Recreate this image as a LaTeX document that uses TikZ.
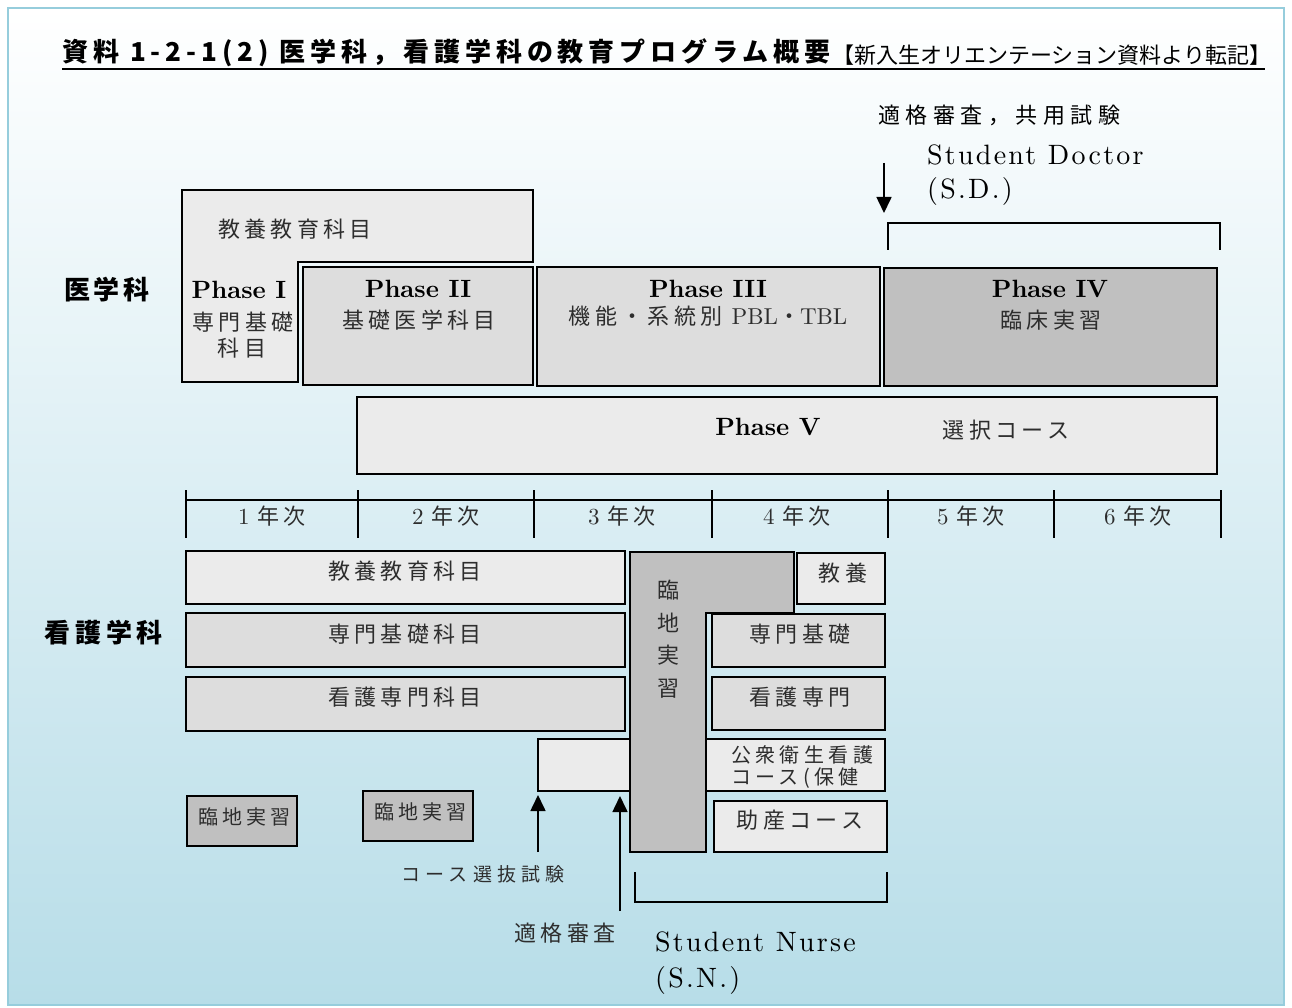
\documentclass[tikz,border=0pt]{standalone}
\usepackage{fontspec}
\usetikzlibrary{arrows.meta,fit}
\newfontfamily\jp{Noto Sans CJK JP}
\newfontfamily\lmr{lmroman10-regular.otf}
\newfontfamily\lmb{lmroman10-bold.otf}
\newfontfamily\lmsp{lmroman10-regular.otf}[LetterSpace=8]
\definecolor{framec}{RGB}{150,205,220}
\definecolor{bgb}{RGB}{183,221,232}
\definecolor{fa}{RGB}{235,235,235}
\definecolor{fb}{RGB}{221,221,221}
\definecolor{fc}{RGB}{192,192,192}
\definecolor{tx}{RGB}{45,45,45}
\newcommand\jtA{\fontsize{22}{26}\selectfont\jp\addfontfeatures{LetterSpace=20}}
\newcommand\jtS{\fontsize{20}{24}\selectfont\jp\addfontfeatures{LetterSpace=20}}
\newcommand\rmA{\fontsize{23}{26}\selectfont\lmr}
\newcommand\phf{\fontsize{25}{28}\selectfont\lmb}
\newcommand\enf{\fontsize{28}{32}\selectfont\lmsp}
\begin{document}
\begin{tikzpicture}[x=1pt,y=-1pt,
  bx/.style={draw=black,line width=1.5pt,inner sep=0pt,outer sep=0pt},
  lb/.style={inner sep=0pt,text=tx,font=\jtA},
  lbs/.style={inner sep=0pt,text=tx,font=\jtS},
  phl/.style={inner sep=0pt,font=\phf},
  en/.style={inner sep=0pt,anchor=west,font=\enf},
  arr/.style={line width=1.6pt,-{Triangle[length=16pt,width=15pt]}},
  brk/.style={line width=1.5pt}]
\useasboundingbox (0,0) rectangle (1292,1008);
\fill[white] (0,0) rectangle (1292,1008);
\shade[top color=white,bottom color=bgb] (8,8) rectangle (1284,1005);
\draw[framec,line width=2pt] (8,8) rectangle (1284,1005);

% title
\node[inner sep=0pt,anchor=west,font={\fontsize{26}{30}\selectfont\jp\bfseries\addfontfeatures{LetterSpace=19}}] (title) at (62,53) {資料 1-2-1(2) 医学科，看護学科の教育プログラム概要};
\node[inner sep=0pt,anchor=west,font={\fontsize{22}{25}\selectfont\jp}] (sub) at (832,55) {【新入生オリエンテーション資料より転記】};
\draw[line width=1.6pt] (62,69) -- (1265,69);

% department labels
\node[inner sep=0pt,font={\fontsize{26}{30}\selectfont\jp\bfseries\addfontfeatures{LetterSpace=15}}] (med) at (107,290) {医学科};
\node[inner sep=0pt,font={\fontsize{26}{30}\selectfont\jp\bfseries\addfontfeatures{LetterSpace=18}}] (nur) at (104,633) {看護学科};

% ---------- medicine ----------
\draw[bx,fill=fa] (182,190) -- (533,190) -- (533,262) -- (298,262) -- (298,382) -- (182,382) -- cycle;
\node[lb] (kyo1) at (295,229) {教養教育科目};
\node[phl] (p1) at (239,290) {Phase I};
\node[lb] (p1a) at (243,322) {専門基礎};
\node[lb] (p1b) at (242,348) {科目};

\node[bx,fill=fb,fit={(303,267) (533,385)}] (ph2) {};
\node[phl] (p2) at (418,289) {Phase II};
\node[lb] (p2a) at (419,320) {基礎医学科目};

\node[bx,fill=fb,fit={(537,267) (880,386)}] (ph3) {};
\node[phl] (p3) at (708,289) {Phase III};
\node[inner sep=0pt,text=tx] (p3a) at (708,316) {{\jtA 機能・系統別}\hspace{9pt}{\rmA PBL}{\jtA ・}{\rmA TBL}};

\node[bx,fill=fc,fit={(884,268) (1217,386)}] (ph4) {};
\node[phl] (p4) at (1050,289) {Phase IV};
\node[lb] (p4a) at (1051,320) {臨床実習};

\node[bx,fill=fa,fit={(357,397) (1217,474)}] (ph5) {};
\node[phl] (p5) at (768,427) {Phase V};
\node[lb] (p5a) at (1006,430) {選択コース};

% top annotations
\node[inner sep=0pt,anchor=west,font={\fontsize{22}{26}\selectfont\jp\addfontfeatures{LetterSpace=25}}] (tekiA) at (878,115) {適格審査，共用試験};
\node[en] (sd1) at (927,155) {Student Doctor};
\node[en] (sd2) at (927,192) {(S.D.)};
\coordinate (sdA) at (884,163);
\coordinate (sdB) at (884,213);
\draw[arr] (sdA) -- (sdB);
\draw[brk] (888,250) -- (888,223) -- (1220,223) -- (1220,250);

% ---------- year axis ----------
\draw[line width=2.2pt] (186,500) -- (1220,500);
\foreach \xx in {186,358,534,712,888,1054,1221}
  \draw[line width=1.5pt] (\xx,490) -- (\xx,538);
\foreach \n/\xx in {1/272,2/446,3/622,4/797,5/971,6/1138}
  \node[inner sep=0pt,text=tx] (y\n) at (\xx,516) {{\rmA \n}\hspace{8pt}{\jtA 年次}};

% ---------- nursing ----------
\node[bx,fill=fa,fit={(186,551) (625,604)}] (n1) {};
\node[lb] (n1t) at (405,571) {教養教育科目};
\node[bx,fill=fb,fit={(186,613) (625,667)}] (n2) {};
\node[lb] (n2t) at (405,634) {専門基礎科目};
\node[bx,fill=fb,fit={(186,677) (625,731)}] (n3) {};
\node[lb] (n3t) at (405,697) {看護専門科目};

\node[bx,fill=fa,fit={(538,739) (885,791)}] (kou) {};
\node[lbs,anchor=west,align=left,font={\fontsize{20}{22}\selectfont\jp\addfontfeatures{LetterSpace=22}}] (kout) at (731,767) {公衆衛生看護\\コース(保健};

\draw[bx,fill=fc] (630,552) -- (794,552) -- (794,613) -- (706,613) -- (706,852) -- (630,852) -- cycle;
\node[lb,align=center,font={\fontsize{22}{32.5}\selectfont\jp}] (rin) at (668,639) {臨\\地\\実\\習};

\node[bx,fill=fa,fit={(797,553) (885,604)}] (n4) {};
\node[lb] (n4t) at (843,573) {教養};
\node[bx,fill=fb,fit={(712,614) (885,667)}] (n5) {};
\node[lb] (n5t) at (800,634) {専門基礎};
\node[bx,fill=fb,fit={(712,677) (885,730)}] (n6) {};
\node[lb] (n6t) at (800,697) {看護専門};
\node[bx,fill=fa,fit={(714,801) (887,852)}] (n7) {};
\node[lb] (n7t) at (800,820) {助産コース};

\node[bx,fill=fc,fit={(187,796) (297,846)}] (r1) {};
\node[lbs] (r1t) at (244,817) {臨地実習};
\node[bx,fill=fc,fit={(363,791) (473,841)}] (r2) {};
\node[lbs] (r2t) at (420,812) {臨地実習};

\coordinate (a1) at (538,852);
\draw[arr,shorten >=4pt] (a1) -- (a1 |- kou.south);
\coordinate (a2) at (620,911);
\draw[arr,shorten >=5pt] (a2) -- (a2 |- kou.south);
\node[inner sep=0pt,text=tx,font={\fontsize{19}{22}\selectfont\jp\addfontfeatures{LetterSpace=28}}] (sel) at (483,874) {コース選抜試験};
\node[lb] (tekiB) at (565,933) {適格審査};

\draw[brk] (635,872) -- (635,902) -- (887,902) -- (887,872);
\node[en] (sn1) at (655,942) {Student Nurse};
\node[en] (sn2) at (655,980) {(S.N.)};
\end{tikzpicture}
\end{document}
